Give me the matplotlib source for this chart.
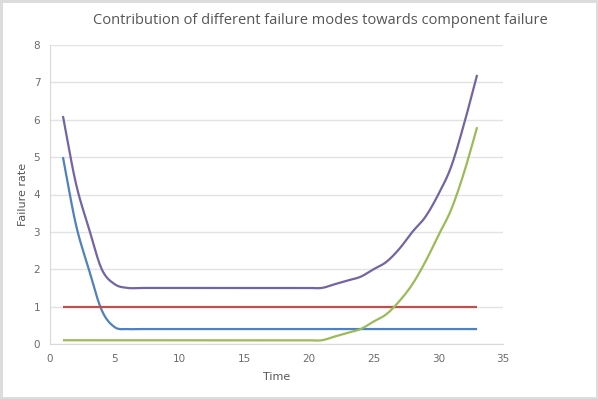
import numpy as np
import matplotlib
matplotlib.use("Agg")
import matplotlib.pyplot as plt

time = list(range(1, 34))
blue_mode = [5.0, 3.2, 2.0, 0.9, 0.45] + [0.4] * 28
red_mode = [1.0] * 33
green_mode = [0.1] * 21 + [0.2, 0.3, 0.4, 0.6, 0.8, 1.15, 1.6, 2.2, 2.9, 3.6, 4.6, 5.8]
total = [6.1, 4.3, 3.1, 2.0, 1.6] + [1.5] * 16 + [1.6, 1.7, 1.8, 2.0, 2.2, 2.55, 3.0, 3.4, 4.0, 4.75, 5.9, 7.2]

title = "Contribution of different failure modes towards component failure"
xlabel = "Time"
ylabel = "Failure rate"
xticks = [0, 5, 10, 15, 20, 25, 30, 35]
yticks = [0, 1, 2, 3, 4, 5, 6, 7, 8]


def smooth(x, y, n=12):
    x = np.asarray(x, float)
    y = np.asarray(y, float)
    px = np.concatenate([[2 * x[0] - x[1]], x, [2 * x[-1] - x[-2]]])
    py = np.concatenate([[2 * y[0] - y[1]], y, [2 * y[-1] - y[-2]]])
    xs, ys = [], []
    t = np.linspace(0, 1, n, endpoint=False)
    for i in range(1, len(px) - 2):
        for arr, out in ((px, xs), (py, ys)):
            p0, p1, p2, p3 = arr[i - 1], arr[i], arr[i + 1], arr[i + 2]
            m1 = (p2 - p0) / 2
            m2 = (p3 - p1) / 2
            h00 = 2 * t**3 - 3 * t**2 + 1
            h10 = t**3 - 2 * t**2 + t
            h01 = -2 * t**3 + 3 * t**2
            h11 = t**3 - t**2
            out.extend(h00 * p1 + h10 * m1 + h01 * p2 + h11 * m2)
    xs.append(x[-1])
    ys.append(y[-1])
    return np.array(xs), np.array(ys)


fig = plt.figure(figsize=(5.98, 3.99), dpi=100)
fig.patch.set_edgecolor("#dcdcdc")
fig.patch.set_linewidth(2.5)
ax = fig.add_axes([50 / 598, 55 / 399, 453 / 598, 299 / 399])

for vals, col in ((blue_mode, "#4F81BD"), (red_mode, "#C0504D"),
                  (green_mode, "#9BBB59"), (total, "#7364A4")):
    sx, sy = smooth(time, vals)
    ax.plot(sx, sy, color=col, lw=1.6, solid_capstyle="butt")

ax.set_xlim(0, 35)
ax.set_ylim(0, 8)
ax.set_xticks(xticks)
ax.set_yticks(yticks)
ax.grid(axis="y", color="#e3e3e3", lw=1)
ax.set_axisbelow(True)
for s in ("top", "right"):
    ax.spines[s].set_visible(False)
for s in ("left", "bottom"):
    ax.spines[s].set_color("#d9d9d9")
ax.tick_params(length=0, labelsize=7.5, labelcolor="#6b6b6b", pad=7)
ax.set_xlabel(xlabel, fontsize=8, color="#555555", labelpad=6)
ax.set_ylabel(ylabel, fontsize=8, color="#555555", labelpad=4)
fig.text(320 / 598, 1 - 21 / 399, title, ha="center", va="center",
         fontsize=10.5, color="#555555", family="Open Sans")

fig.savefig("out.png", dpi=100)
